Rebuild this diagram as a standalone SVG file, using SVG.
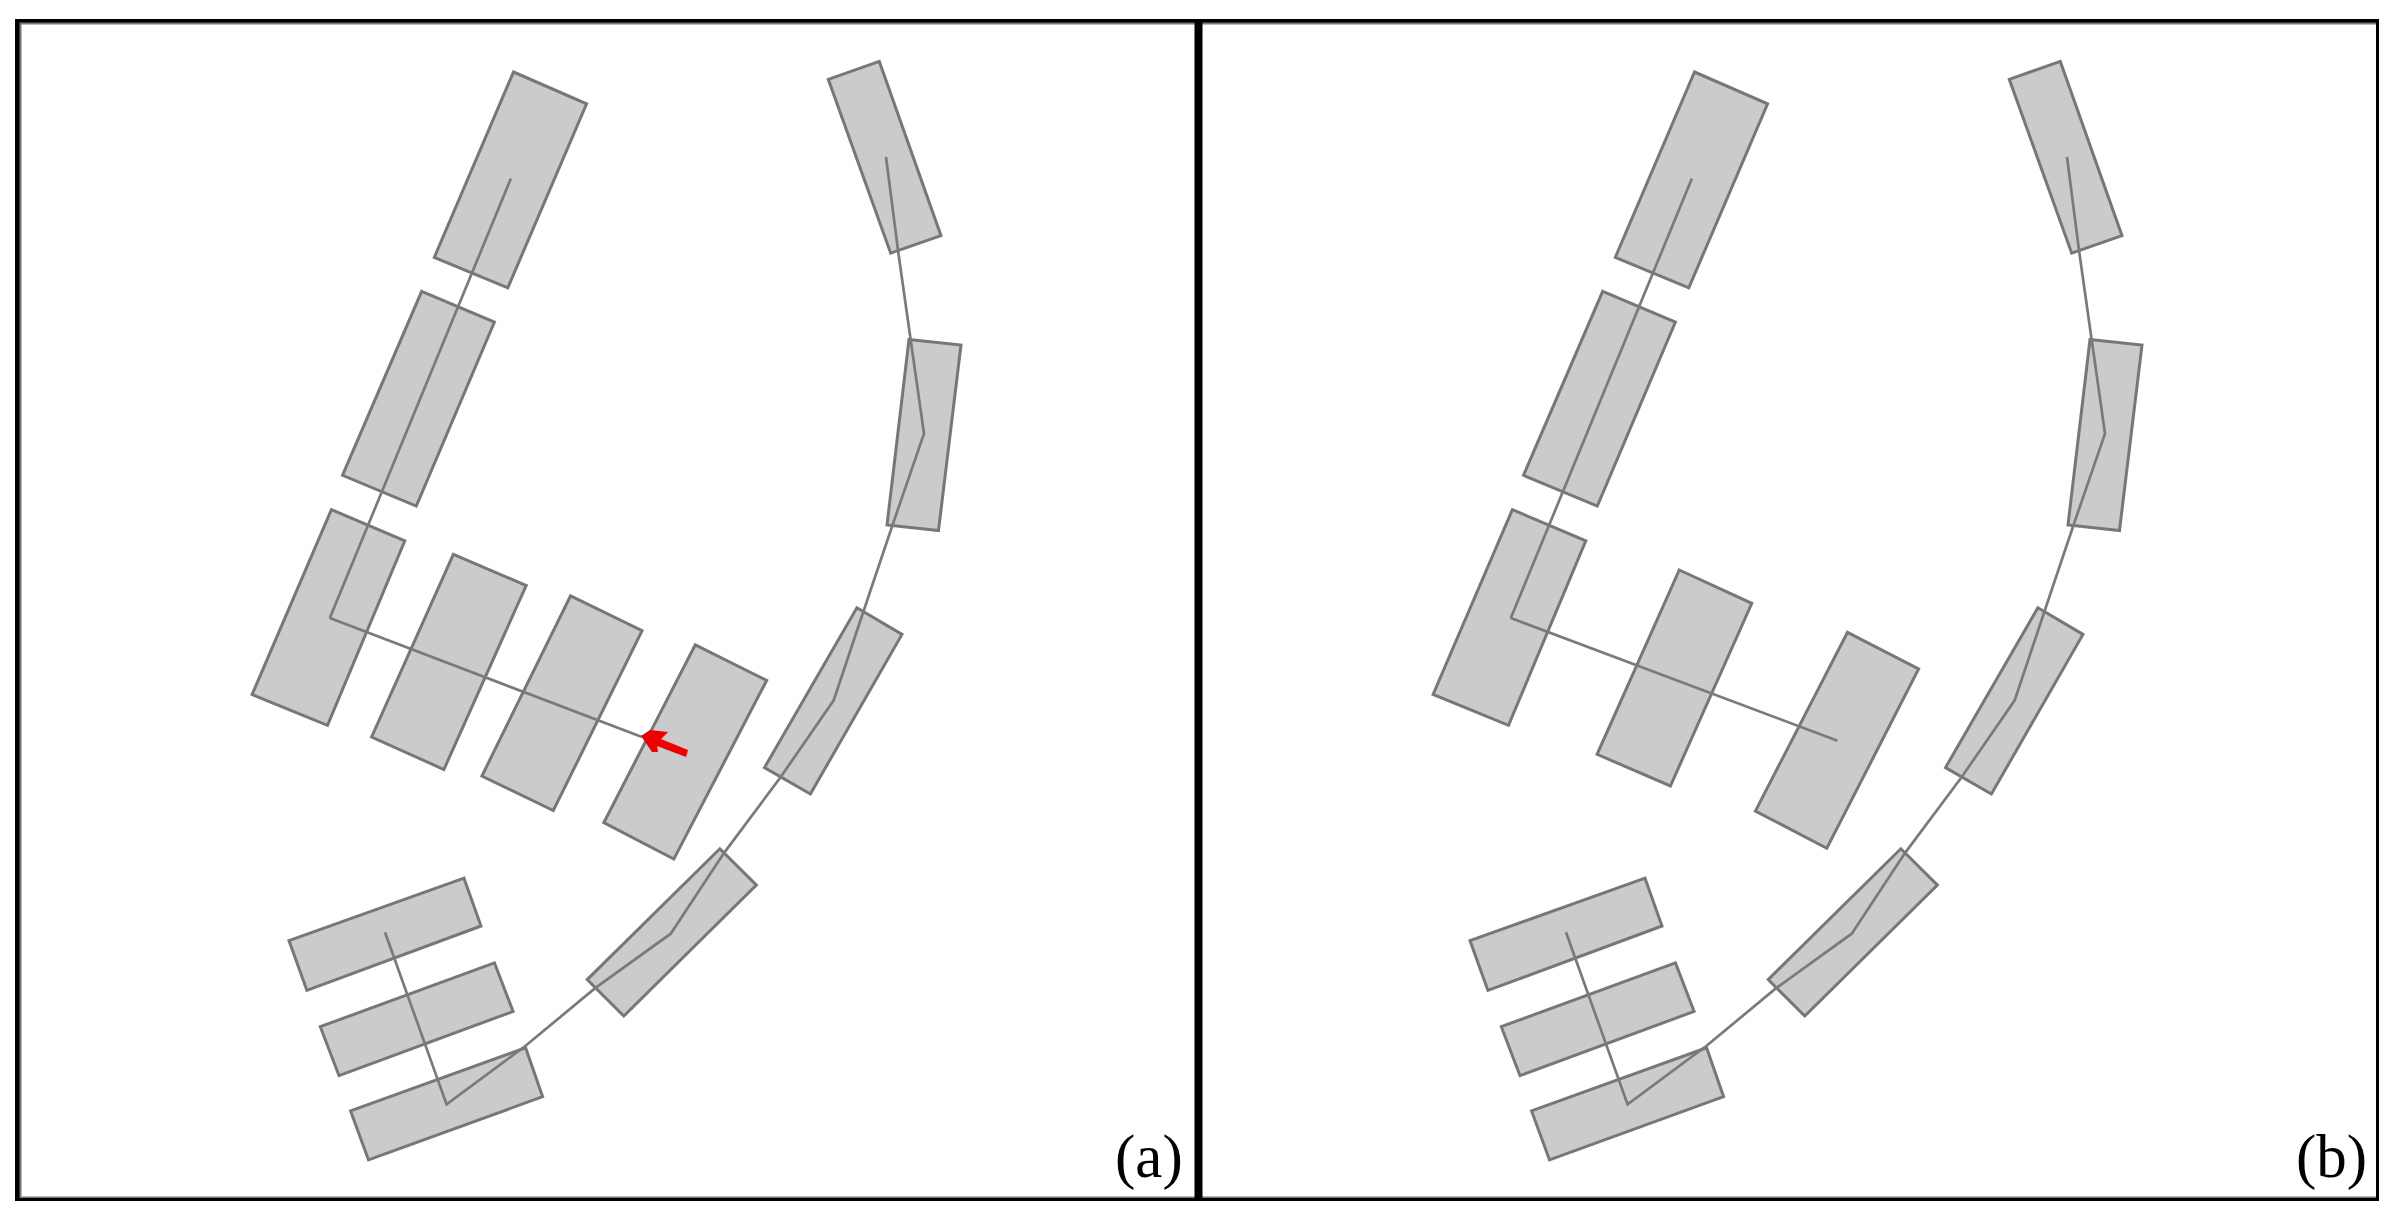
<svg xmlns="http://www.w3.org/2000/svg" width="2393" height="1218" viewBox="0 0 2393 1218">
<style>
.b{fill:#cbcbcb;stroke:#777;stroke-width:3;stroke-linejoin:miter}
.c{fill:none;stroke:#7a7a7a;stroke-width:2.7;stroke-linejoin:miter}
.k{fill:#000}
.g{fill:#777}
.t{font-family:"Liberation Serif","Times New Roman",serif;font-size:61px;fill:#000}
</style>
<defs>
<g id="blocks-common">
<polygon class="b" points="513.5,72 586.6,103.8 507.8,287.8 434.3,257.4"/>
<polygon class="b" points="421.7,291.3 494.4,322.1 416.3,506.1 342.5,475.3"/>
<polygon class="b" points="331.4,509.6 404.8,540.9 327.5,725.3 252.1,694.5"/>
<polygon class="b" points="828.3,79.3 879.3,61.4 941,235.7 890.7,253.2"/>
<polygon class="b" points="909,339.5 961,345 938.5,530.5 887,525"/>
<polygon class="b" points="856.9,607.7 902,634.4 810.4,794 764.5,767.6"/>
<polygon class="b" points="719.8,848.8 756.4,885.1 623.8,1016 587.2,979.6"/>
<polygon class="b" points="464,878.2 481,926 306.9,990.4 289,940.6"/>
<polygon class="b" points="494.4,962.8 513.1,1011.4 339,1075.7 320.3,1026.7"/>
<polygon class="b" points="525.6,1047.8 542.6,1096.7 368.5,1159.9 350.6,1110.9"/>
</g>
<path id="main-path" class="c" d="M510.9,178.4L329.8,618.1"/>
<path id="curve-path" class="c" d="M886,157L898.3,252.5L910.7,340L924,433.6L891.7,527.5L868.3,597L833.7,700.3L780,778L724.3,852.6L670.7,933.7L594.8,988.4L525.6,1045.8L446.6,1104.4L385,932.2"/>
</defs>
<rect width="2393" height="1218" fill="#fff"/>
<g id="panel-a">
<g id="nodes-a">
<use href="#blocks-common"/>
<polygon id="a-block-4" class="b" points="453.4,554.3 526.2,585.5 443.9,769.5 371.6,737"/>
<polygon id="a-block-5" class="b" points="570.6,595.8 642.1,630.6 553.3,810.5 481.9,776"/>
<polygon id="a-block-6" class="b" points="695.3,644.8 766.7,680.4 673.8,859.1 603.8,822.7"/>
</g>
<g id="connectors-a">
<use href="#main-path"/>
<use href="#curve-path"/>
<path class="c" d="M329.8,618.1L642,737"/>
<polygon id="red-arrow" fill="#ee0000" points="641,736 650,730 668,732 661,739 688,750 686,757 657,746 658,752 652,752"/>
</g>
<text class="t" x="1115" y="1177">(a)</text>
</g>
<g id="panel-b" transform="translate(1181 0)">
<g id="nodes-b">
<use href="#blocks-common"/>
<polygon id="b-block-4" class="b" points="498.3,570 570.8,603.3 489.4,786 416.1,754.3"/>
<polygon id="b-block-5" class="b" points="666.5,632.3 737.6,669 645.8,848.3 574.4,811"/>
</g>
<g id="connectors-b">
<use href="#main-path"/>
<use href="#curve-path"/>
<path class="c" d="M329.8,618.1L656.5,740.7"/>
</g>
<text class="t" x="1115" y="1177">(b)</text>
</g>
<g id="frame">
<rect class="g" x="19" y="22" width="2.500" height="1176"/>
<rect class="g" x="19" y="22" width="2357" height="2.500"/>
<rect class="g" x="19" y="1196.500" width="2357" height="2"/>
<rect class="k" x="15" y="19" width="4.500" height="1182"/>
<rect class="k" x="15" y="19" width="2364" height="3.500"/>
<rect class="k" x="15" y="1198" width="2364" height="3"/>
<rect class="k" x="2376" y="19" width="3" height="1182"/>
<rect class="k" x="1194.500" y="19" width="8" height="1182"/>
</g>
</svg>
